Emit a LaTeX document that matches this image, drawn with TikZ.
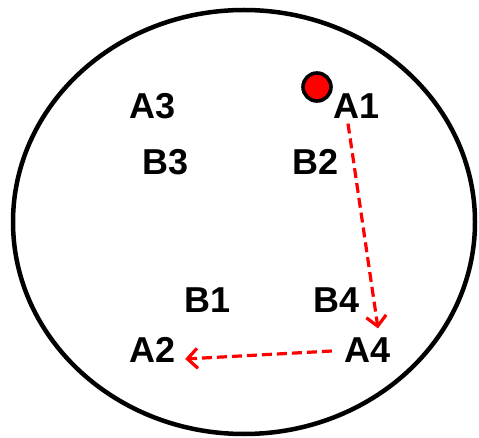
\documentclass[tikz,border=0pt]{standalone}
\usepackage{fontspec}
\setmainfont{Liberation Sans}
\usetikzlibrary{arrows.meta}

\begin{document}
\begin{tikzpicture}[x=1pt,y=-1pt,>={Straight Barb[length=10pt,width=20pt]},
	lbl/.style={font=\bfseries\fontsize{36}{42}\selectfont,inner sep=3pt},
	move/.style={->,red,line width=3.2pt,dash pattern=on 10pt off 5pt}]
			
			\useasboundingbox (0,0) rectangle (479,438);
			\draw[line width=4.5pt] (244,222) ellipse (231 and 212);
			
			\node[circle,draw,fill=red,line width=3.6pt,minimum size=28pt,inner sep=0pt] (dot) at (317,87) {};
			
			\node[lbl] (A3) at (153,106) {A3};
			\node[lbl] (A1) at (357,106) {A1};
			\node[lbl] (B3) at (166,162) {B3};
			\node[lbl] (B2) at (316,162) {B2};
			\node[lbl] (B1) at (208,300) {B1};
			\node[lbl] (B4) at (337,300) {B4};
			\node[lbl] (A2) at (153,350) {A2};
			\node[lbl] (A4) at (368,350) {A4};
			
			\draw[move] ([xshift=-9pt,yshift=-2pt]A1.south)--([xshift=10pt,yshift=6pt]A4.north);
			\draw[move] ([xshift=-10pt,yshift=-1pt]A4.west)--([xshift=6pt,yshift=-9pt]A2.east);
			
		\end{tikzpicture}
\end{document}
